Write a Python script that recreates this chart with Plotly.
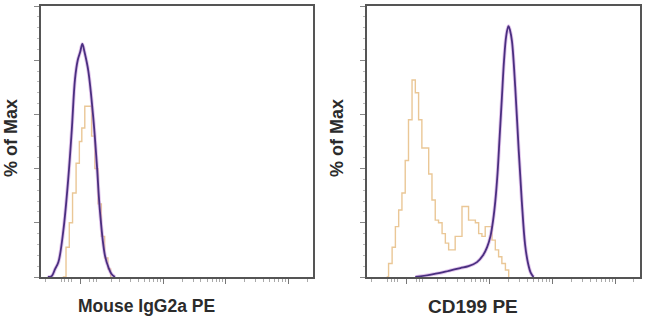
import plotly.graph_objects as go

# ---- data (channel units 0-1000 on a log-like display scale, % of Max) ----
# Left panel: Mouse IgG2a PE
iso_purple_x = [25, 39, 52, 64, 82, 100, 113, 125, 135, 144, 152, 160, 174, 192, 205, 217, 235, 250, 260, 272]
iso_purple_y = [0, 0.3, 3, 5.5, 17, 36, 54, 73, 80, 83, 86, 83, 76, 59, 42, 24, 8, 3, 1, 0]
iso_orange_x = [80, 92, 104, 116, 129, 141, 150, 161, 186, 198, 210, 222, 234, 246, 256]
iso_orange_y = [0, 11, 20, 31, 42, 50, 55, 63, 52, 40, 27, 15, 7, 3, 0]

# Right panel: CD199 PE
cd_purple_x = [177, 230, 268, 300, 342, 372, 403, 425, 440, 452, 462, 470, 478, 486, 494, 502, 510, 518,
               524, 531, 543, 555, 567, 579, 590, 600, 610]
cd_purple_y = [0, 0.8, 1.5, 2.3, 3.3, 4, 5.5, 8, 11, 15, 21, 28, 38, 52, 66, 80, 89, 92.6,
               91, 87, 70, 48, 28, 12, 5, 1.5, 0]
cd_orange_x = [72, 79, 92, 104, 116, 128, 140, 152, 165, 177, 189, 201, 226, 238, 250, 262, 275, 287, 299,
               323, 348, 372, 397, 409, 421, 433, 458, 470, 482, 494, 507, 519]
cd_orange_y = [0, 5, 11, 18.6, 24.7, 31, 43, 58, 72.7, 68, 58, 47.6, 38, 28.4, 21, 20, 16, 12.5, 10,
               15, 26, 21, 20, 16, 15, 18.6, 13.6, 10, 7.5, 5, 2.6, 0]

x_titles = ["Mouse IgG2a PE", "CD199 PE"]
y_title = "% of Max"

x_major_ticks = [144, 450, 680, 910]
x_minor_ticks = [15, 76, 88, 101, 113, 180, 193, 205, 260, 289, 330, 358, 381, 399, 414, 428, 439,
                 519, 560, 588, 611, 629, 644, 658, 669, 749, 790, 818, 841, 859, 874, 888, 899, 978]

PURPLE = "#4a2f80"
HALO = "rgba(200,150,220,0.55)"
ORANGE = "#eac796"

fig = go.Figure()

def add_panel(xa, ya, ox, oy, px, py):
    fig.add_trace(go.Scatter(x=ox, y=oy, mode="lines", line=dict(color=ORANGE, width=1.4, shape="hv"),
                             xaxis=xa, yaxis=ya, showlegend=False, hoverinfo="skip"))
    fig.add_trace(go.Scatter(x=px, y=py, mode="lines", line=dict(color=HALO, width=3.6, shape="spline"),
                             xaxis=xa, yaxis=ya, showlegend=False, hoverinfo="skip"))
    fig.add_trace(go.Scatter(x=px, y=py, mode="lines", line=dict(color=PURPLE, width=1.8, shape="spline"),
                             xaxis=xa, yaxis=ya, showlegend=False, hoverinfo="skip"))

add_panel("x", "y", iso_orange_x, iso_orange_y, iso_purple_x, iso_purple_y)
add_panel("x2", "y2", cd_orange_x, cd_orange_y, cd_purple_x, cd_purple_y)

W, H = 650, 321
ydom = [(H - 277) / H, (H - 6) / H]

xcommon = dict(range=[0, 1000], showgrid=False, zeroline=False, showline=True, linecolor="#555555",
               linewidth=1.6, mirror=True, ticks="outside", ticklen=5, tickcolor="#777777", tickwidth=1,
               tickmode="array", tickvals=x_major_ticks, showticklabels=False,
               minor=dict(tickmode="array", tickvals=x_minor_ticks, ticks="outside", ticklen=3,
                          tickcolor="#aaaaaa", tickwidth=1))
ycommon = dict(range=[0, 100], showgrid=False, zeroline=False, showline=True, linecolor="#555555",
               linewidth=1.6, mirror=True, ticks="outside", ticklen=5, tickcolor="#888888", tickwidth=1,
               tickmode="array", tickvals=[0, 20, 40, 60, 80, 100], showticklabels=False,
               minor=dict(dtick=4, ticks="outside", ticklen=2, tickcolor="#bbbbbb", tickwidth=1))

fig.update_layout(
    width=W, height=H, margin=dict(l=0, r=0, t=0, b=0),
    paper_bgcolor="white", plot_bgcolor="white",
    xaxis=dict(domain=[41 / W, 313 / W], anchor="y", **xcommon),
    yaxis=dict(domain=ydom, anchor="x", **ycommon),
    xaxis2=dict(domain=[367 / W, 640 / W], anchor="y2", **xcommon),
    yaxis2=dict(domain=ydom, anchor="x2", **ycommon),
)

fam = "Liberation Sans, Arial, sans-serif"
fig.add_annotation(text="<b>" + x_titles[0] + "</b>", xref="paper", yref="paper",
                   x=146 / W, y=(H - 306) / H, xanchor="center", yanchor="middle", showarrow=False,
                   font=dict(family=fam, size=17.5, color="#2b2b2b"))
fig.add_annotation(text="<b>" + x_titles[1] + "</b>", xref="paper", yref="paper",
                   x=473 / W, y=(H - 306) / H, xanchor="center", yanchor="middle", showarrow=False,
                   font=dict(family=fam, size=19, color="#2b2b2b"))
for xc in (11, 337):
    fig.add_annotation(text="<b>" + y_title + "</b>", xref="paper", yref="paper",
                       x=xc / W, y=(H - 138) / H, xanchor="center", yanchor="middle", textangle=-90,
                       showarrow=False, font=dict(family=fam, size=18, color="#2b2b2b"))

fig.write_html("out.html")
